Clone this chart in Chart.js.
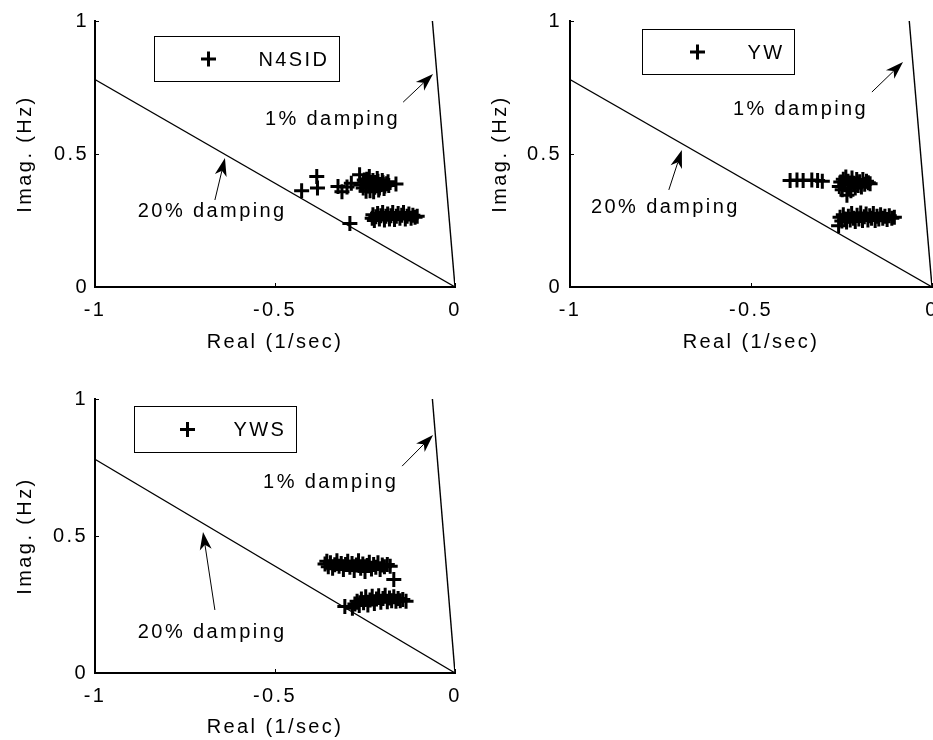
<!DOCTYPE html>
<html>
<head>
<meta charset="utf-8">
<title>Pole estimates</title>
<script src="https://cdn.jsdelivr.net/npm/chart.js@4/dist/chart.umd.min.js"></script>
<style>
  html, body { margin: 0; padding: 0; background: #fff; width: 933px; height: 740px; overflow: hidden; position: relative; }
  canvas { position: absolute; }
</style>
</head>
<body>
<canvas id="p1" width="470" height="360" style="left:0px;top:0px"></canvas>
<canvas id="p2" width="490" height="360" style="left:470px;top:0px"></canvas>
<canvas id="p3" width="470" height="360" style="left:0px;top:380px"></canvas>
<script>
// ---- axis ticks ----
const xTicks = [-1, -0.5, 0];
const xTickLabels = ['-1', '-0.5', '0'];
const yTicks = [0, 0.5, 1];
const yTickLabels = ['0', '0.5', '1'];

// ---- constant-damping reference lines (Real 1/sec, Imag Hz) ----
const damping20 = [[0, 0], [-1, 0.7797]];
const damping1 = [[0, 0], [-0.0628, 1]];

// ---- estimated poles [real, imag] ----
const n4sidPoles = [
  [-0.426, 0.362], [-0.384, 0.415], [-0.382, 0.372], [-0.325, 0.378], [-0.314, 0.358],
  [-0.300, 0.376], [-0.288, 0.390], [-0.265, 0.422], [-0.262, 0.383], [-0.255, 0.372],
  [-0.252, 0.402], [-0.250, 0.395], [-0.247, 0.360], [-0.245, 0.405], [-0.240, 0.380],
  [-0.238, 0.415], [-0.236, 0.362], [-0.232, 0.392], [-0.228, 0.400], [-0.226, 0.358],
  [-0.223, 0.375], [-0.219, 0.388], [-0.216, 0.408], [-0.214, 0.398], [-0.212, 0.365],
  [-0.210, 0.372], [-0.205, 0.385], [-0.202, 0.400], [-0.200, 0.392], [-0.197, 0.370],
  [-0.195, 0.380], [-0.190, 0.388], [-0.186, 0.396], [-0.184, 0.382], [-0.164, 0.387],
  [-0.292, 0.239], [-0.230, 0.258], [-0.228, 0.272], [-0.224, 0.250], [-0.220, 0.264],
  [-0.215, 0.276], [-0.210, 0.256], [-0.206, 0.268], [-0.201, 0.280], [-0.196, 0.252],
  [-0.192, 0.266], [-0.187, 0.274], [-0.182, 0.256], [-0.178, 0.268], [-0.173, 0.280],
  [-0.168, 0.254], [-0.163, 0.266], [-0.158, 0.276], [-0.153, 0.258], [-0.148, 0.270],
  [-0.143, 0.280], [-0.138, 0.256], [-0.133, 0.266], [-0.128, 0.274], [-0.122, 0.258],
  [-0.117, 0.270], [-0.111, 0.262], [-0.105, 0.266]
];
const ywPoles = [
  [-0.392, 0.400], [-0.373, 0.402], [-0.356, 0.400], [-0.332, 0.402], [-0.316, 0.400],
  [-0.303, 0.398],
  [-0.256, 0.378], [-0.252, 0.395], [-0.248, 0.366], [-0.245, 0.405], [-0.241, 0.385],
  [-0.238, 0.414], [-0.235, 0.345], [-0.232, 0.398], [-0.228, 0.372], [-0.224, 0.362],
  [-0.221, 0.410], [-0.216, 0.390], [-0.212, 0.372], [-0.208, 0.404], [-0.204, 0.382],
  [-0.200, 0.396], [-0.195, 0.376], [-0.191, 0.404], [-0.186, 0.386], [-0.181, 0.398],
  [-0.176, 0.392], [-0.171, 0.388],
  [-0.258, 0.230], [-0.254, 0.262], [-0.249, 0.248], [-0.245, 0.272], [-0.240, 0.256],
  [-0.236, 0.244], [-0.231, 0.266], [-0.226, 0.252], [-0.222, 0.276], [-0.217, 0.258],
  [-0.212, 0.246], [-0.207, 0.270], [-0.202, 0.256], [-0.197, 0.278], [-0.192, 0.250],
  [-0.187, 0.264], [-0.182, 0.274], [-0.177, 0.252], [-0.172, 0.268], [-0.167, 0.258],
  [-0.162, 0.276], [-0.157, 0.250], [-0.152, 0.266], [-0.147, 0.256], [-0.142, 0.272],
  [-0.136, 0.258], [-0.130, 0.266], [-0.124, 0.254], [-0.118, 0.268], [-0.111, 0.258],
  [-0.104, 0.262]
];
const ywsPoles = [
  [-0.361, 0.398], [-0.356, 0.408], [-0.352, 0.388], [-0.346, 0.402], [-0.340, 0.382],
  [-0.334, 0.395], [-0.328, 0.410], [-0.322, 0.390], [-0.316, 0.400], [-0.310, 0.378],
  [-0.304, 0.396], [-0.298, 0.408], [-0.292, 0.386], [-0.286, 0.400], [-0.280, 0.374],
  [-0.274, 0.394], [-0.268, 0.410], [-0.262, 0.382], [-0.256, 0.398], [-0.250, 0.370],
  [-0.244, 0.392], [-0.238, 0.404], [-0.232, 0.380], [-0.226, 0.396], [-0.220, 0.386],
  [-0.214, 0.402], [-0.208, 0.378], [-0.202, 0.394], [-0.196, 0.388], [-0.188, 0.396],
  [-0.180, 0.390],
  [-0.170, 0.341],
  [-0.306, 0.243], [-0.285, 0.236], [-0.278, 0.252], [-0.272, 0.262], [-0.266, 0.246],
  [-0.260, 0.270], [-0.254, 0.256], [-0.248, 0.278], [-0.242, 0.248], [-0.236, 0.266],
  [-0.230, 0.280], [-0.224, 0.254], [-0.218, 0.270], [-0.212, 0.282], [-0.206, 0.258],
  [-0.200, 0.272], [-0.194, 0.284], [-0.188, 0.260], [-0.182, 0.274], [-0.176, 0.264],
  [-0.170, 0.278], [-0.164, 0.262], [-0.158, 0.272], [-0.152, 0.264], [-0.145, 0.268],
  [-0.136, 0.262]
];

const FONT_FAMILY = '"Liberation Sans", Arial, Helvetica, sans-serif';
const FONT_SIZE = 20;
const LETTER_SPACING = '2.4px';

// one entry per subplot: layout and annotation placement
const panels = [
  {
    canvas: 'p1', name: 'N4SID', poles: n4sidPoles,
    pad: { top: 21, right: 15 }, xAxisH: 73, yAxisW: 95, yTickPad: 6, yTitlePad: 13, xTitlePad: 6,
    legend: { dx: 59, dy: 15, h: 45, markerDx: 54, textDx: 104 },
    notes: [
      { text: '20% damping', at: [-0.881, 0.263], tail: [-0.667, 0.327], tip: [-0.639, 0.485] },
      { text: '1% damping', at: [-0.528, 0.609], tail: [-0.144, 0.695], tip: [-0.061, 0.801] }
    ]
  },
  {
    canvas: 'p2', name: 'YW', poles: ywPoles,
    pad: { top: 21, right: 28 }, xAxisH: 73, yAxisW: 100, yTickPad: 8, yTitlePad: 18, xTitlePad: 6,
    legend: { dx: 72, dy: 8, h: 45, markerDx: 55, textDx: 105 },
    notes: [
      { text: '20% damping', at: [-0.942, 0.278], tail: [-0.727, 0.365], tip: [-0.691, 0.515] },
      { text: '1% damping', at: [-0.550, 0.647], tail: [-0.166, 0.733], tip: [-0.080, 0.846] }
    ]
  },
  {
    canvas: 'p3', name: 'YWS', poles: ywsPoles,
    pad: { top: 19, right: 15 }, xAxisH: 67, yAxisW: 95, yTickPad: 7, yTitlePad: 13, xTitlePad: 1,
    legend: { dx: 39, dy: 7, h: 46, markerDx: 53, textDx: 99 },
    notes: [
      { text: '20% damping', at: [-0.881, 0.128], tail: [-0.667, 0.230], tip: [-0.700, 0.515] },
      { text: '1% damping', at: [-0.533, 0.675], tail: [-0.147, 0.755], tip: [-0.061, 0.869] }
    ]
  }
];

const toXY = arr => arr.map(p => ({ x: p[0], y: p[1] }));

function drawPlus(ctx, x, y, r, w) {
  ctx.save();
  ctx.strokeStyle = '#000';
  ctx.lineWidth = w;
  ctx.beginPath();
  ctx.moveTo(x - r, y); ctx.lineTo(x + r, y);
  ctx.moveTo(x, y - r); ctx.lineTo(x, y + r);
  ctx.stroke();
  ctx.restore();
}

function drawArrow(ctx, x0, y0, x1, y1) {
  const ang = Math.atan2(y1 - y0, x1 - x0);
  const len = 18, half = 6, notch = 5;
  const ux = Math.cos(ang), uy = Math.sin(ang);
  const bx = x1 - ux * len, by = y1 - uy * len;
  const nx = x1 - ux * (len - notch), ny = y1 - uy * (len - notch);
  ctx.save();
  ctx.strokeStyle = '#000';
  ctx.fillStyle = '#000';
  ctx.lineWidth = 1;
  ctx.beginPath();
  ctx.moveTo(x0, y0);
  ctx.lineTo(nx, ny);
  ctx.stroke();
  ctx.beginPath();
  ctx.moveTo(x1, y1);
  ctx.lineTo(bx - uy * half, by + ux * half);
  ctx.lineTo(nx, ny);
  ctx.lineTo(bx + uy * half, by - ux * half);
  ctx.closePath();
  ctx.fill();
  ctx.restore();
}

// MATLAB-style decorations: inward ticks, text arrows, boxed legend
const decorPlugin = {
  id: 'decor',
  beforeDraw(chart) {
    chart.ctx.letterSpacing = LETTER_SPACING;
  },
  afterDraw(chart) {
    const ctx = chart.ctx;
    const cfg = chart.options.plugins.decor;
    const xs = chart.scales.x, ys = chart.scales.y;
    const area = chart.chartArea;
    ctx.save();
    ctx.letterSpacing = LETTER_SPACING;

    // inward tick marks
    ctx.strokeStyle = '#000';
    ctx.lineWidth = 1;
    ctx.beginPath();
    xTicks.forEach(v => {
      const px = Math.round(xs.getPixelForValue(v)) + 0.5;
      ctx.moveTo(px, area.bottom);
      ctx.lineTo(px, area.bottom - 4);
    });
    yTicks.forEach(v => {
      const py = Math.round(ys.getPixelForValue(v)) + 0.5;
      ctx.moveTo(area.left, py);
      ctx.lineTo(area.left + 4, py);
    });
    ctx.stroke();

    // damping labels with arrows
    ctx.font = FONT_SIZE + 'px ' + FONT_FAMILY;
    ctx.fillStyle = '#000';
    ctx.textAlign = 'left';
    ctx.textBaseline = 'alphabetic';
    cfg.notes.forEach(n => {
      ctx.fillText(n.text, xs.getPixelForValue(n.at[0]), ys.getPixelForValue(n.at[1]));
      drawArrow(ctx,
        xs.getPixelForValue(n.tail[0]), ys.getPixelForValue(n.tail[1]),
        xs.getPixelForValue(n.tip[0]), ys.getPixelForValue(n.tip[1]));
    });

    // legend box
    const lg = cfg.legend;
    const label = chart.data.datasets[0].label;
    const tw = ctx.measureText(label).width;
    const bx = Math.round(area.left + lg.dx) + 0.5;
    const by = Math.round(area.top + lg.dy) + 0.5;
    const bw = Math.round(lg.textDx + tw + 10);
    ctx.fillStyle = '#fff';
    ctx.fillRect(bx, by, bw, lg.h);
    ctx.strokeStyle = '#000';
    ctx.lineWidth = 1;
    ctx.strokeRect(bx, by, bw, lg.h);
    drawPlus(ctx, bx + lg.markerDx, by + lg.h / 2, 7.5, 3);
    ctx.fillStyle = '#000';
    ctx.textBaseline = 'middle';
    ctx.fillText(label, bx + lg.textDx, by + lg.h / 2 + 1);
    ctx.restore();
  }
};

panels.forEach(p => {
  const font = { family: FONT_FAMILY, size: FONT_SIZE };
  new Chart(document.getElementById(p.canvas), {
    type: 'scatter',
    data: {
      datasets: [
        {
          label: p.name,
          data: toXY(p.poles),
          pointStyle: 'cross',
          pointRadius: 7.5,
          pointBorderWidth: 3,
          borderColor: '#000',
          backgroundColor: '#000',
          showLine: false
        },
        {
          label: '20% damping',
          data: toXY(damping20),
          showLine: true,
          pointRadius: 0,
          borderColor: '#000',
          borderWidth: 1.2,
          fill: false
        },
        {
          label: '1% damping',
          data: toXY(damping1),
          showLine: true,
          pointRadius: 0,
          borderColor: '#000',
          borderWidth: 1.4,
          fill: false
        }
      ]
    },
    options: {
      responsive: false,
      animation: false,
      events: [],
      layout: { padding: { top: p.pad.top, right: p.pad.right, left: 0, bottom: 0 } },
      plugins: {
        legend: { display: false },
        tooltip: { enabled: false },
        decor: { notes: p.notes, legend: p.legend }
      },
      scales: {
        x: {
          type: 'linear',
          min: -1, max: 0,
          afterBuildTicks: s => { s.ticks = xTicks.map(v => ({ value: v })); },
          afterFit: s => { s.height = p.xAxisH; s.paddingLeft = 0; s.paddingRight = 0; },
          ticks: {
            autoSkip: false, maxRotation: 0, padding: 11, color: '#000', font,
            callback: v => xTickLabels[xTicks.indexOf(v)]
          },
          grid: { display: false, drawTicks: false },
          border: { display: true, color: '#000', width: 2 },
          title: {
            display: true, text: 'Real (1/sec)', color: '#000', font,
            padding: { top: 0, bottom: p.xTitlePad }
          }
        },
        y: {
          type: 'linear',
          min: 0, max: 1,
          afterBuildTicks: s => { s.ticks = yTicks.map(v => ({ value: v })); },
          afterFit: s => { s.width = p.yAxisW; s.paddingTop = 0; s.paddingBottom = 0; },
          ticks: {
            autoSkip: false, padding: p.yTickPad, color: '#000', font,
            callback: v => yTickLabels[yTicks.indexOf(v)]
          },
          grid: { display: false, drawTicks: false },
          border: { display: true, color: '#000', width: 2 },
          title: {
            display: true, text: 'Imag. (Hz)', color: '#000', font,
            padding: { top: p.yTitlePad, bottom: 0 }
          }
        }
      }
    },
    plugins: [decorPlugin]
  });
});
</script>
</body>
</html>
